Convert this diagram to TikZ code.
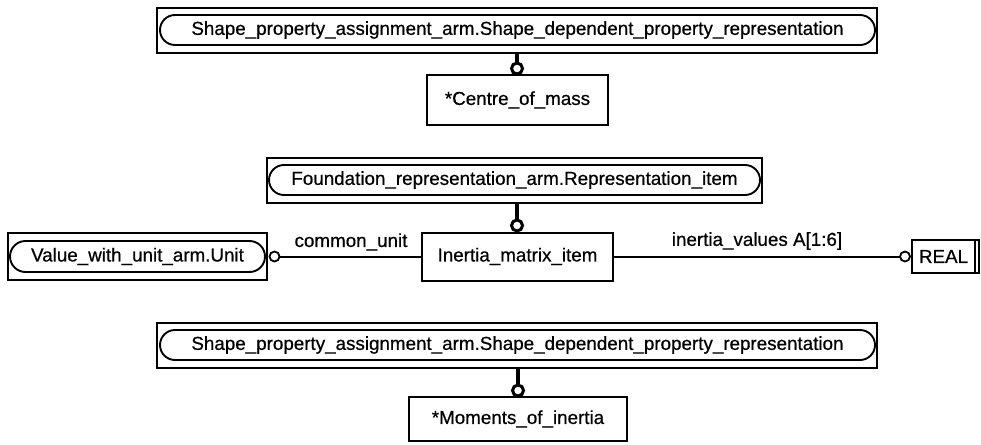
\documentclass[tikz,border=0pt]{standalone}
\usepackage{fontspec}
\setmainfont{Liberation Sans}[BoldFont=Liberation Sans, BoldFeatures={FakeBold=0.6}]
\usetikzlibrary{shapes.misc}
\begin{document}
\begin{tikzpicture}[x=1pt,y=-1pt,
  every node/.style={font=\fontsize{18.8}{22}\selectfont\bfseries, inner sep=0pt, outer sep=0pt},
  frame/.style={draw, line width=2.2pt, rectangle},
  capsule/.style={draw, line width=1.9pt, rounded rectangle, rounded rectangle arc length=180},
  entity/.style={draw, line width=2pt, rectangle},
  thickc/.style={line width=3.4pt},
  thinc/.style={line width=2pt},
  bigo/.style={circle, draw, line width=3pt, fill=white, minimum size=11pt},
  smallo/.style={circle, draw, line width=1.8pt, fill=white, minimum size=10pt}
]
\useasboundingbox (0,0) rectangle (981,444);

% top group
\node[frame, minimum width=720pt, minimum height=45pt] (spaA) at (517,30.5) {};
\node[capsule, minimum width=715pt, minimum height=30pt] (spaAi) at (517.5,30) {Shape\_property\_assignment\_arm.Shape\_dependent\_property\_representation};
\node[bigo] (c1) at (517,68.5) {};
\node[entity, minimum width=181pt, minimum height=50pt] (com) at (517.5,100) {*Centre\_of\_mass};
\draw[thickc] (spaA) -- (c1);

% middle group
\node[frame, minimum width=495pt, minimum height=45pt] (fra) at (514.5,180.5) {};
\node[capsule, minimum width=491pt, minimum height=30pt] (frai) at (514.5,180) {Foundation\_representation\_arm.Representation\_item};
\node[bigo] (c2) at (517,225.5) {};
\node[entity, minimum width=191pt, minimum height=48pt] (imi) at (517.5,256.5) {Inertia\_matrix\_item};
\draw[thickc] (fra.south -| c2) -- (c2);

\node[frame, minimum width=259pt, minimum height=47pt] (vwu) at (137.5,256.5) {};
\node[capsule, minimum width=255pt, minimum height=31pt] (vwui) at (137.5,256.5) {Value\_with\_unit\_arm.Unit};
\node[smallo] (c4) at (274.5,256.5) {};
\draw[thinc] (imi.west) -- (c4);
\node (lcu) at (351,242) {common\_unit};

\node[entity, minimum width=63pt, minimum height=33pt] (real) at (943.5,256.5) {REAL};
\draw[entity] (real.north east) -- ++(4,0) -- ++(0,33) -- (real.south east);
\node[smallo] (c5) at (905,256.5) {};
\draw[thinc] (imi.east) -- (c5);
\node (liv) at (757,241) {inertia\_values A[1:6]};

% bottom group
\node[frame, minimum width=720pt, minimum height=45pt] (spaB) at (517,345.5) {};
\node[capsule, minimum width=715pt, minimum height=30pt] (spaBi) at (517.5,345) {Shape\_property\_assignment\_arm.Shape\_dependent\_property\_representation};
\node[bigo] (c3) at (518,390.5) {};
\node[entity, minimum width=218pt, minimum height=44pt] (moi) at (518,419) {*Moments\_of\_inertia};
\draw[thickc] (spaB.south -| c3) -- (c3);
\end{tikzpicture}
\end{document}
